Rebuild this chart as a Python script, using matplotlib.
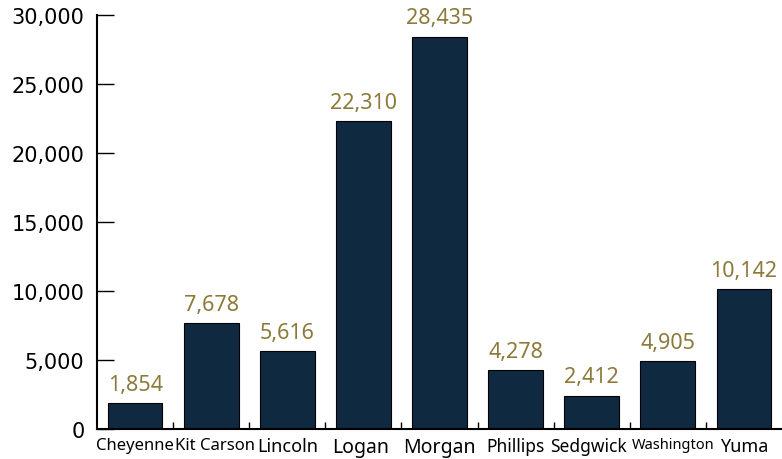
import numpy as np
import matplotlib
matplotlib.use("Agg")
import matplotlib.pyplot as plt
from matplotlib.ticker import FuncFormatter, MultipleLocator

# county values
counties = ["Cheyenne", "Kit Carson", "Lincoln", "Logan", "Morgan",
            "Phillips", "Sedgwick", "Washington", "Yuma"]
values = [1854, 7678, 5616, 22310, 28435, 4278, 2412, 4905, 10142]
# label sizes differ per county in the original
label_sizes = [12, 12, 13, 14, 14, 12.5, 12.5, 10.5, 13]
# small sideways nudges of the labels (points)
label_shift = [0, 3, 0, -2, 0, 0, -2, 4, 0]

bar_col = "#0f2a40"
val_col = "#8c7a3a"

fig = plt.figure(figsize=(7.82, 4.6), dpi=100)
ax = fig.add_axes([97/782, 30/460, 1 - 97/782, 414/460])

x = np.arange(len(counties))
ax.bar(x, values, width=0.72, color=bar_col, edgecolor="black", linewidth=0.8)

for xi, v in zip(x, values):
    ax.annotate(f"{v:,}", (xi, v), xytext=(0, 6), textcoords="offset points",
                ha="center", va="bottom", color=val_col,
                fontsize=15.5, family="Noto Sans")

ax.set_xlim(-0.5, len(counties) - 0.5)
ax.set_ylim(0, 30000)

ax.yaxis.set_major_locator(MultipleLocator(5000))
ax.yaxis.set_major_formatter(FuncFormatter(lambda v, p: f"{int(v):,}"))
ax.tick_params(axis="y", direction="in", length=12, width=1,
               labelsize=15, pad=9)

ax.set_xticks(x)
ax.set_xticklabels([])
ax.tick_params(axis="x", which="major", length=0)
for xi, name, s, dx in zip(x, counties, label_sizes, label_shift):
    ax.annotate(name, (xi, 0), xycoords=("data", "axes fraction"),
                xytext=(dx, -6), textcoords="offset points",
                ha="center", va="top", fontsize=s, family="Noto Sans")
ax.set_xticks(x[:-1] + 0.5, minor=True)
ax.tick_params(axis="x", which="minor", direction="in", length=5, width=1)

for side in ["top", "right"]:
    ax.spines[side].set_visible(False)
ax.spines["left"].set_linewidth(1.5)
ax.spines["bottom"].set_linewidth(1.5)

fig.savefig("out.png", dpi=100)
